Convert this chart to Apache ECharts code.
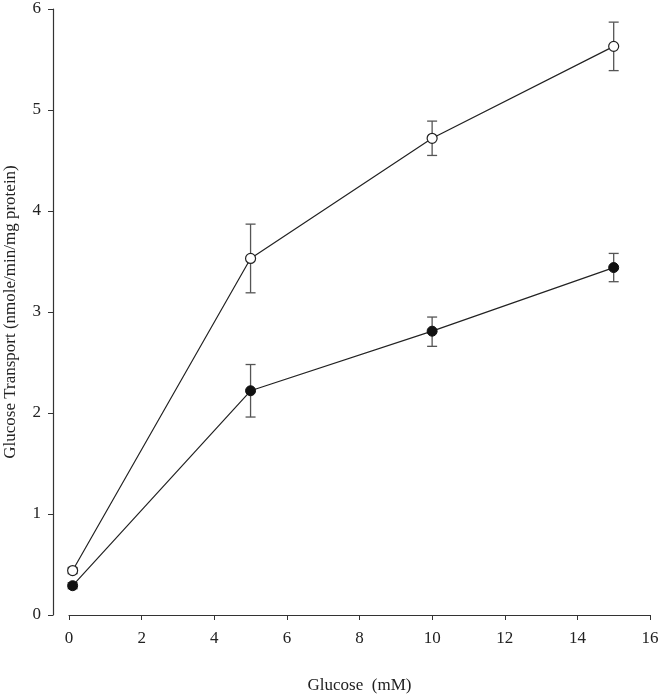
<!DOCTYPE html>
<html><head><meta charset="utf-8">
<script src="https://cdn.jsdelivr.net/npm/echarts@6/dist/echarts.min.js"></script>
<style>html,body{margin:0;padding:0;background:#fff}#c{width:659px;height:694px}</style>
</head><body><div id="c"></div>
<script>
var glucose = [0.1, 5, 10, 15];
var openMean = [0.44, 3.53, 4.72, 5.63];
var openLow  = [0.41, 3.19, 4.55, 5.39];
var openHigh = [0.47, 3.87, 4.89, 5.87];
var filledMean = [0.29, 2.22, 2.81, 3.44];
var filledLow  = [0.26, 1.96, 2.66, 3.30];
var filledHigh = [0.32, 2.48, 2.95, 3.58];
var xTicks = [0, 2, 4, 6, 8, 10, 12, 14, 16];
var yTicks = [0, 1, 2, 3, 4, 5, 6];

var FONT = 'Liberation Serif';
function pts(m){ return glucose.map(function(x,i){return [x,m[i]];}); }
function errs(lo,hi){ return glucose.map(function(x,i){return [x,lo[i],hi[i]];}); }
function errSeries(lo,hi){
  return {
    type:'custom', data: errs(lo,hi), z:1,
    renderItem:function(params,api){
      var x=api.value(0), l=api.value(1), h=api.value(2);
      var pl=api.coord([x,l]), ph=api.coord([x,h]);
      var w=5;
      var st={stroke:'#555',lineWidth:1.3};
      return {type:'group',children:[
        {type:'line',shape:{x1:pl[0],y1:pl[1],x2:ph[0],y2:ph[1]},style:st},
        {type:'line',shape:{x1:pl[0]-w,y1:pl[1],x2:pl[0]+w,y2:pl[1]},style:st},
        {type:'line',shape:{x1:ph[0]-w,y1:ph[1],x2:ph[0]+w,y2:ph[1]},style:st}
      ]};
    }
  };
}
var chart = echarts.init(document.getElementById('c'));
chart.setOption({
  animation:false,
  grid:{left:69,right:9,top:9,bottom:79,containLabel:false,outerBoundsMode:'none'},
  xAxis:{type:'value',min:xTicks[0],max:xTicks[xTicks.length-1],interval:2,
    name:'Glucose  (mM)',nameLocation:'middle',nameGap:62,
    nameTextStyle:{fontFamily:FONT,fontSize:17,color:'#222'},
    axisLine:{onZero:false,lineStyle:{color:'#333',width:1.2}},
    axisTick:{show:true,length:5,lineStyle:{color:'#333'}},
    axisLabel:{fontFamily:FONT,fontSize:17,color:'#222',margin:15},
    splitLine:{show:false}},
  yAxis:{type:'value',min:yTicks[0],max:yTicks[yTicks.length-1],interval:1,offset:16,
    name:'Glucose Transport (nmole/min/mg protein)',nameLocation:'middle',nameGap:34,
    nameTextStyle:{fontFamily:FONT,fontSize:17,color:'#222'},
    axisLine:{show:true,onZero:false,lineStyle:{color:'#333',width:1.2}},
    axisTick:{show:true,length:5,lineStyle:{color:'#333'}},
    axisLabel:{fontFamily:FONT,fontSize:17,color:'#222',margin:12},
    splitLine:{show:false}},
  series:[
    errSeries(openLow,openHigh),
    errSeries(filledLow,filledHigh),
    {type:'line',data:pts(openMean),symbol:'circle',symbolSize:10,z:3,
      lineStyle:{color:'#222',width:1.2},
      itemStyle:{color:'#fff',borderColor:'#222',borderWidth:1.2}},
    {type:'line',data:pts(filledMean),symbol:'circle',symbolSize:10,z:3,
      lineStyle:{color:'#222',width:1.2},
      itemStyle:{color:'#111',borderColor:'#111',borderWidth:1}}
  ]
});
</script></body></html>
